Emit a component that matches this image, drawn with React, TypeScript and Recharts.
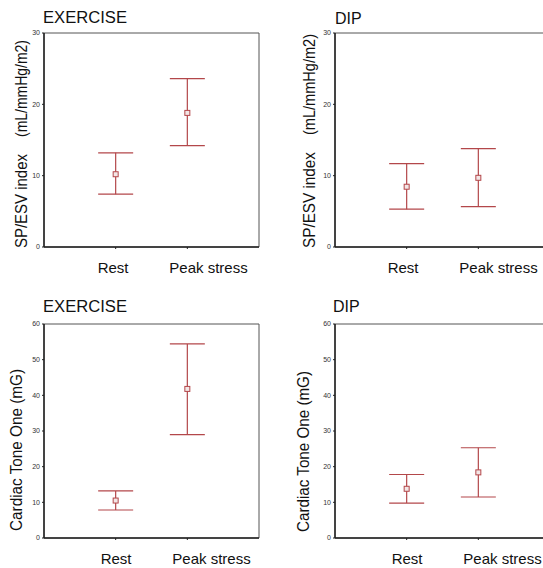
import React from "react";
import {
  ScatterChart,
  Scatter,
  XAxis,
  YAxis,
  ErrorBar,
  ReferenceArea,
} from "recharts";

// ---- data ----
const categories = ["Rest", "Peak stress"];
const categoryPos = [1, 2];

// SP/ESV index (mL/mmHg/m2)
const exSpMean = [10.2, 18.8];
const exSpLow = [7.4, 14.2];
const exSpHigh = [13.2, 23.6];
const dipSpMean = [8.45, 9.7];
const dipSpLow = [5.3, 5.65];
const dipSpHigh = [11.7, 13.8];

// Cardiac Tone One (mG)
const exCtMean = [10.5, 41.8];
const exCtLow = [7.85, 29.0];
const exCtHigh = [13.2, 54.4];
const dipCtMean = [13.8, 18.4];
const dipCtLow = [9.8, 11.5];
const dipCtHigh = [17.8, 25.3];

const spTicks = [0, 10, 20, 30];
const ctTicks = [0, 10, 20, 30, 40, 50, 60];

const RED = "#b3474a";
const FONT = "Arial, 'Liberation Sans', sans-serif";

function build(mean: number[], low: number[], high: number[]) {
  return categories.map((c, i) => ({
    name: c,
    x: categoryPos[i],
    y: mean[i],
    err: [mean[i] - low[i], high[i] - mean[i]],
  }));
}

const Square = (props: any) => {
  const { cx, cy } = props;
  return (
    <rect x={cx - 2.5} y={cy - 2.5} width={5} height={5} fill="#f3e6e6" stroke={RED} strokeWidth={1} />
  );
};

const makeXTick = (dx: number) => (props: any) => {
  const { x, y, payload } = props;
  const idx = categoryPos.indexOf(payload.value);
  return (
    <text x={x + dx} y={y + 22} textAnchor="start" fontSize={15} fontFamily={FONT} fill="#111">
      {categories[idx]}
    </text>
  );
};

type PanelProps = {
  left: number;
  top: number;
  width: number;
  yAxisWidth: number;
  marginTop: number;
  marginRight: number;
  marginBottom: number;
  ticks: number[];
  yMax: number;
  data: any[];
  tickDx: number;
};

function Panel(p: PanelProps) {
  return (
    <div style={{ position: "absolute", left: p.left, top: p.top }}>
      <ScatterChart
        width={p.width}
        height={284}
        margin={{ top: p.marginTop, right: p.marginRight, bottom: p.marginBottom, left: 0 }}
      >
        <ReferenceArea
          x1={0}
          x2={3}
          y1={0}
          y2={p.yMax}
          fill="none"
          stroke="#555"
          strokeWidth={1}
          ifOverflow="visible"
        />
        <XAxis
          type="number"
          dataKey="x"
          domain={[0, 3]}
          ticks={categoryPos}
          height={30}
          axisLine={{ stroke: "#222", strokeWidth: 1.5 }}
          tickLine={{ stroke: "#222" }}
          tickSize={2}
          tick={makeXTick(p.tickDx)}
          interval={0}
        />
        <YAxis
          type="number"
          dataKey="y"
          domain={[0, p.yMax]}
          ticks={p.ticks}
          width={p.yAxisWidth}
          axisLine={{ stroke: "#222", strokeWidth: 1.5 }}
          tickLine={{ stroke: "#222" }}
          tickSize={2}
          tick={{ fontSize: 7, fill: "#333", fontFamily: FONT }}
          interval={0}
        />
        <Scatter data={p.data} isAnimationActive={false} shape={Square}>
          <ErrorBar dataKey="err" direction="y" width={17.5} stroke={RED} strokeWidth={1.2} isAnimationActive={false} />
        </Scatter>
      </ScatterChart>
    </div>
  );
}

export default function App() {
  return (
    <div
      style={{
        position: "absolute",
        left: 0,
        top: 0,
        width: 543,
        height: 568,
        overflow: "hidden",
        background: "#fff",
      }}
    >
      <Panel left={0} top={0} width={272} yAxisWidth={44} marginTop={33} marginRight={13} marginBottom={7}
        ticks={spTicks} yMax={30} data={build(exSpMean, exSpLow, exSpHigh)} tickDx={-18} />
      <Panel left={272} top={0} width={300} yAxisWidth={63} marginTop={33} marginRight={22} marginBottom={7}
        ticks={spTicks} yMax={30} data={build(dipSpMean, dipSpLow, dipSpHigh)} tickDx={-19} />
      <Panel left={0} top={284} width={272} yAxisWidth={44} marginTop={40} marginRight={13} marginBottom={0}
        ticks={ctTicks} yMax={60} data={build(exCtMean, exCtLow, exCtHigh)} tickDx={-15} />
      <Panel left={272} top={284} width={300} yAxisWidth={63} marginTop={40} marginRight={22} marginBottom={0}
        ticks={ctTicks} yMax={60} data={build(dipCtMean, dipCtLow, dipCtHigh)} tickDx={-15} />
      <svg width={543} height={568} style={{ position: "absolute", left: 0, top: 0, pointerEvents: "none" }}>
        <g fontFamily={FONT} fill="#111" fontSize={16}>
          <text x={43} y={23} textLength={84} lengthAdjust="spacingAndGlyphs">EXERCISE</text>
          <text x={335} y={24}>DIP</text>
          <text x={43} y={311.5} textLength={84} lengthAdjust="spacingAndGlyphs">EXERCISE</text>
          <text x={333} y={312}>DIP</text>

          <text transform="translate(27,248) rotate(-90)" textLength={94} lengthAdjust="spacingAndGlyphs">SP/ESV index</text>
          <text transform="translate(27,137) rotate(-90)" textLength={97} lengthAdjust="spacingAndGlyphs">(mL/mmHg/m2)</text>
          <text transform="translate(315,248) rotate(-90)" textLength={96} lengthAdjust="spacingAndGlyphs">SP/ESV index</text>
          <text transform="translate(315,135) rotate(-90)" textLength={101} lengthAdjust="spacingAndGlyphs">(mL/mmHg/m2)</text>
          <text transform="translate(22,531) rotate(-90)" textLength={162} lengthAdjust="spacingAndGlyphs">Cardiac Tone One (mG)</text>
          <text transform="translate(309,532) rotate(-90)" textLength={161} lengthAdjust="spacingAndGlyphs">Cardiac Tone One (mG)</text>
        </g>
      </svg>
    </div>
  );
}
